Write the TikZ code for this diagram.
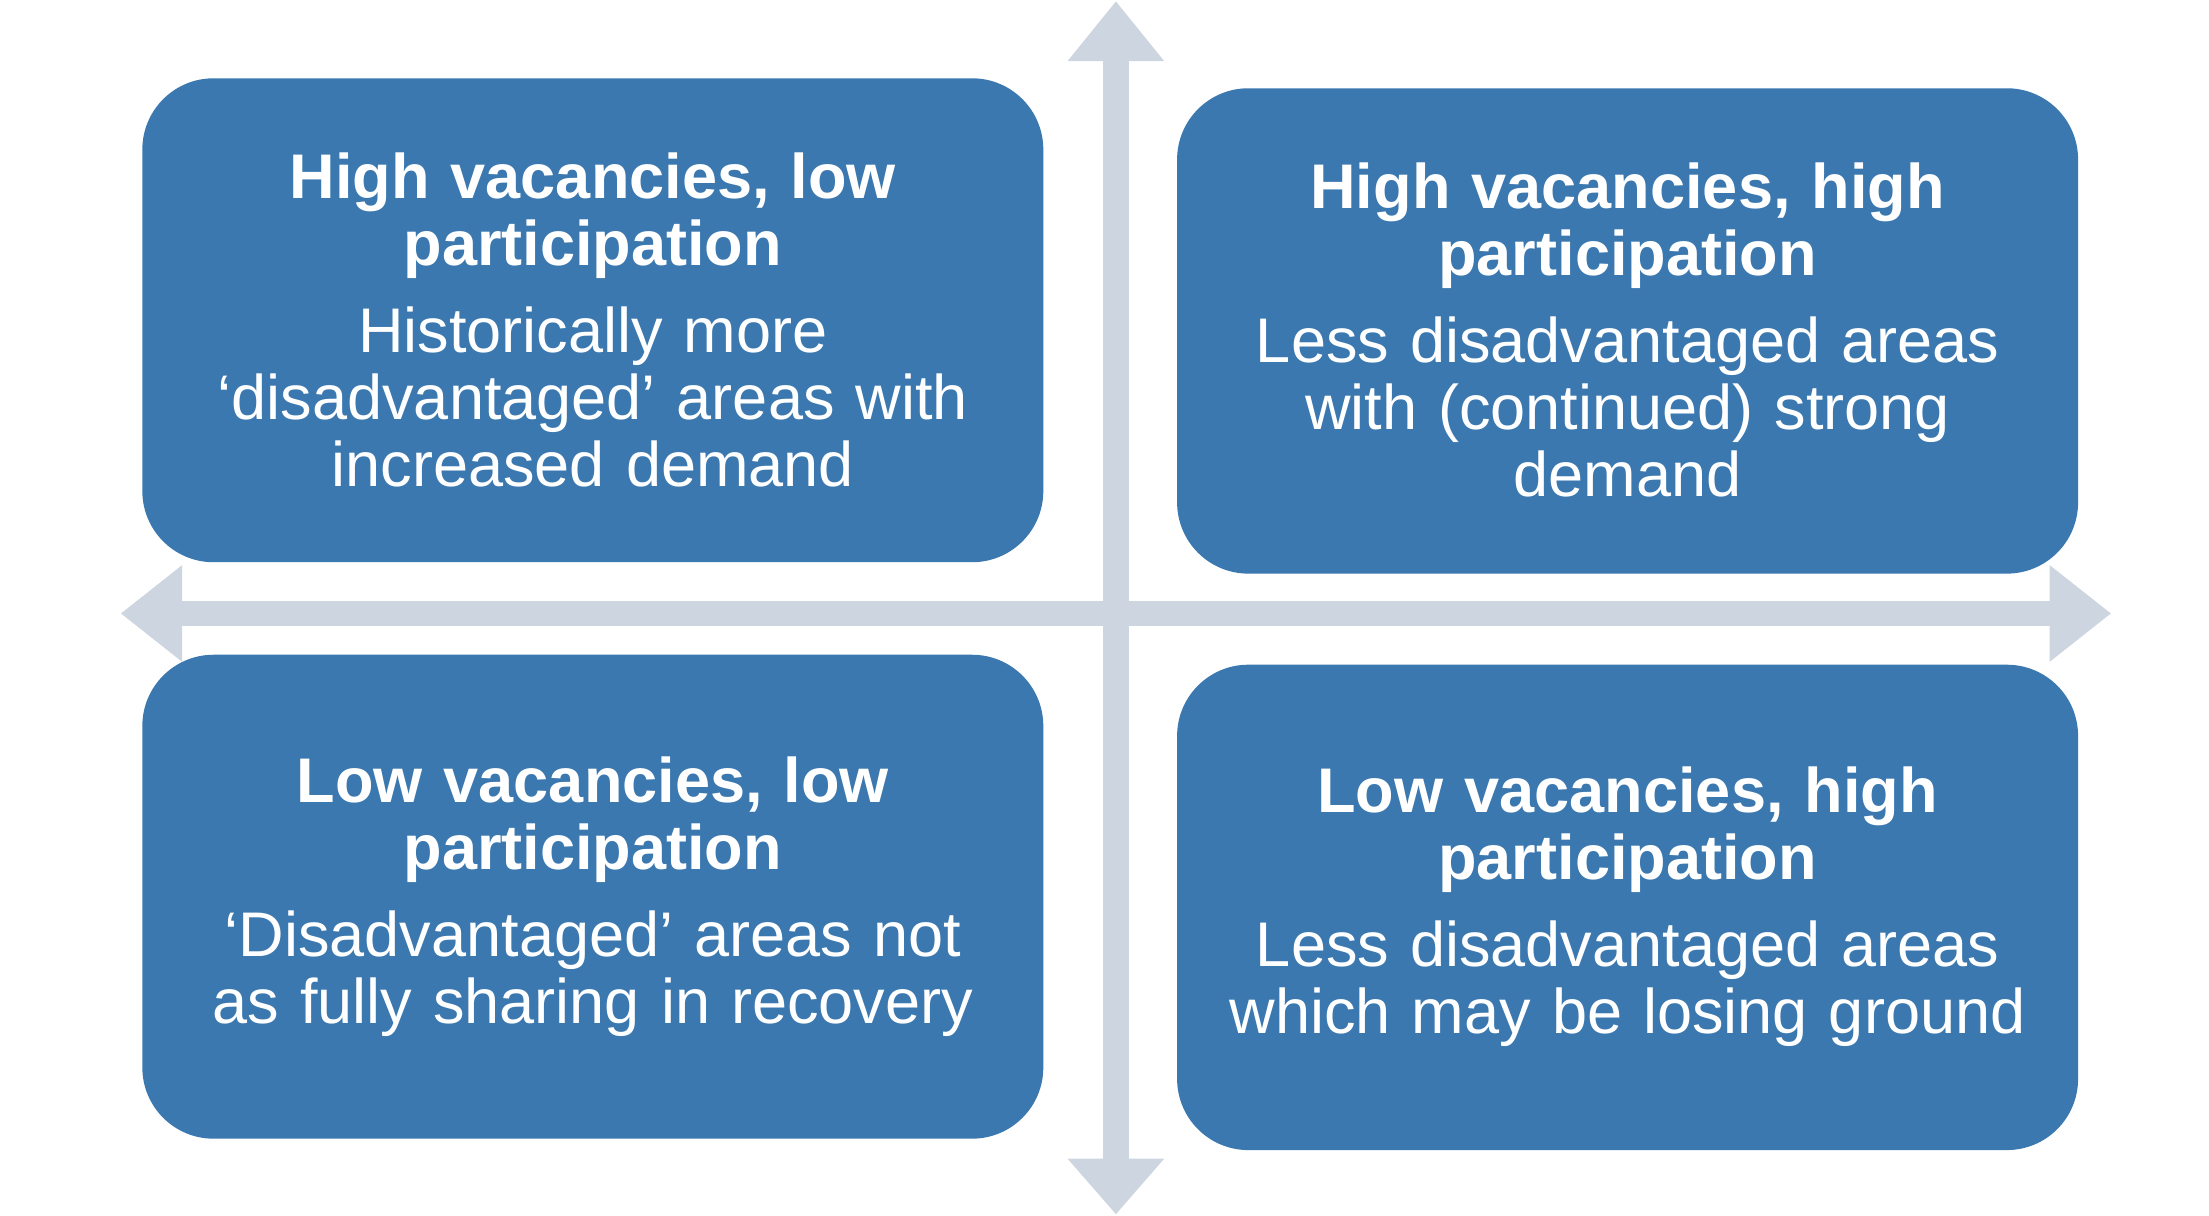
\documentclass[tikz,border=0pt]{standalone}
\usepackage{fontspec}
\setmainfont{Liberation Sans}
\definecolor{boxblue}{HTML}{3A78AF}
\definecolor{axisgrey}{HTML}{CDD5E0}
\begin{document}
\begin{tikzpicture}[x=0.01cm,y=-0.01cm,
  quad/.style={fill=boxblue,rounded corners=0.5cm,draw=none},
  qtext/.style={text=white,align=center,text width=6.2cm,font=\fontsize{12.6pt}{13.4pt}\selectfont},
  axis/.style={fill=axisgrey,draw=none}]
\useasboundingbox (0,0) rectangle (1552,854);
% axes
\fill[axis] (775,40) rectangle (793,816);
\fill[axis] (750,43) -- (784,1) -- (818,43) -- cycle;
\fill[axis] (750,814) -- (784,853) -- (818,814) -- cycle;
\fill[axis] (126,422) rectangle (1442,440);
\fill[axis] (128,397) -- (85,431) -- (128,465) -- cycle;
\fill[axis] (1440,397) -- (1483,431) -- (1440,465) -- cycle;
% boxes
\fill[quad] (100,55) rectangle (733,395);
\fill[quad] (827,62) rectangle (1460,403);
\fill[quad] (100,460) rectangle (733,800);
\fill[quad] (827,467) rectangle (1460,808);
\node[qtext] (tl) at (416.5,225) {\textbf{High vacancies, low\\participation}\\[0.14cm]Historically more\\‘disadvantaged’ areas with\\increased demand};
\node[qtext] (tr) at (1143.5,232) {\textbf{High vacancies, high\\participation}\\[0.14cm]Less disadvantaged areas\\with (continued) strong\\demand};
\node[qtext] (bl) at (416.5,630) {\textbf{Low vacancies, low\\participation}\\[0.14cm]‘Disadvantaged’ areas not\\as fully sharing in recovery};
\node[qtext] (br) at (1143.5,637) {\textbf{Low vacancies, high\\participation}\\[0.14cm]Less disadvantaged areas\\which may be losing ground};
\end{tikzpicture}
\end{document}
